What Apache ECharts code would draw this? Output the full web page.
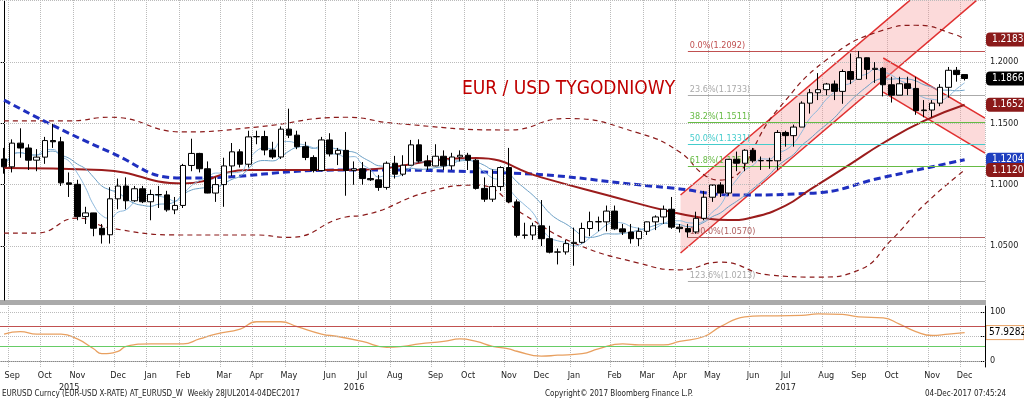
<!DOCTYPE html>
<html><head><meta charset="utf-8">
<script src="https://cdn.jsdelivr.net/npm/echarts@6/dist/echarts.min.js"></script>
<style>html,body{margin:0;padding:0;background:#fff}#c{width:1024px;height:401px}</style>
</head><body><div id="c"></div>
<script>
// ---- data ----
const startDate = '2015-08-31';
const opens = [1.1210,1.1146,1.1339,1.1299,1.1200,1.1225,1.1360,1.1350,1.1015,1.1003,1.0740,1.0770,1.0645,1.0592,1.0885,1.0989,1.0869,1.0967,
1.0861,1.0920,1.0917,1.0795,1.0831,1.1157,1.1255,1.1130,1.0932,1.1001,1.1153,1.1268,1.1167,1.1390,1.1393,1.1283,1.1226,1.1453,1.1404,1.1310,1.1222,1.1115,1.1365,1.1251,1.1280,1.1117,1.1130,1.1050,1.1040,1.0978,1.1175,1.1086,1.1159,1.1325,1.1193,1.1153,1.1232,1.1154,1.1226,1.1240,1.1200,1.0970,1.0882,1.0985,1.1140,1.0860,1.0587,1.0590,1.0665,1.0560,1.0450,1.0452,
1.0520,1.0530,1.0643,1.0699,1.0697,1.0785,1.0640,1.0614,1.0560,1.0620,1.0697,1.0737,1.0800,1.0654,1.0642,1.0615,1.0726,1.0898,1.0998,1.0932,1.1207,1.1175,1.1281,1.1195,1.1197,1.1195,1.1426,1.1400,1.1470,1.1665,1.1750,1.1775,1.1821,1.1761,1.1923,1.1859,1.2035,1.1940,1.1949,1.1815,1.1730,1.1823,1.1785,1.1604,1.1609,1.1665,1.1794,1.1933,1.1898];
const closes = [1.1146,1.1339,1.1299,1.1200,1.1225,1.1360,1.1350,1.1015,1.1003,1.0740,1.0770,1.0645,1.0592,1.0885,1.0989,1.0869,1.0967,1.0861,
1.0920,1.0917,1.0795,1.0831,1.1157,1.1255,1.1130,1.0932,1.1001,1.1153,1.1268,1.1167,1.1390,1.1393,1.1283,1.1226,1.1453,1.1404,1.1310,1.1222,1.1115,1.1365,1.1251,1.1280,1.1117,1.1130,1.1050,1.1040,1.0978,1.1175,1.1086,1.1159,1.1325,1.1193,1.1153,1.1232,1.1154,1.1226,1.1240,1.1200,1.0970,1.0882,1.0985,1.1140,1.0860,1.0587,1.0590,1.0665,1.0560,1.0450,1.0452,1.0520,
1.0530,1.0643,1.0699,1.0697,1.0785,1.0640,1.0614,1.0560,1.0620,1.0697,1.0737,1.0800,1.0654,1.0642,1.0615,1.0726,1.0898,1.0998,1.0932,1.1207,1.1175,1.1281,1.1195,1.1197,1.1195,1.1426,1.1400,1.1470,1.1665,1.1750,1.1775,1.1821,1.1761,1.1923,1.1859,1.2035,1.1940,1.1949,1.1815,1.1730,1.1823,1.1785,1.1604,1.1609,1.1665,1.1794,1.1933,1.1898,1.1866];
const highs = [1.1300,1.1370,1.1460,1.1330,1.1290,1.1390,1.1495,1.1390,1.1100,1.1040,1.0820,1.0760,1.0680,1.0980,1.1050,1.1060,1.0990,1.0990,
1.0960,1.0990,1.0950,1.0900,1.1170,1.1375,1.1260,1.1190,1.1060,1.1220,1.1340,1.1290,1.1440,1.1440,1.1440,1.1350,1.1475,1.1620,1.1440,1.1350,1.1240,1.1390,1.1420,1.1300,1.1430,1.1190,1.1185,1.1120,1.1080,1.1190,1.1235,1.1240,1.1365,1.1370,1.1240,1.1330,1.1280,1.1260,1.1280,1.1260,1.1210,1.1060,1.1125,1.1150,1.1300,1.0880,1.0690,1.0690,1.0875,1.0665,1.0480,1.0550,
1.0650,1.0690,1.0780,1.0740,1.0830,1.0830,1.0680,1.0680,1.0650,1.0700,1.0750,1.0830,1.0900,1.0680,1.0680,1.0780,1.0950,1.0990,1.1020,1.1210,1.1270,1.1290,1.1300,1.1230,1.1220,1.1445,1.1440,1.1490,1.1680,1.1780,1.1910,1.1830,1.1850,1.1940,1.2070,1.2090,1.2000,1.2000,1.1960,1.1880,1.1880,1.1880,1.1880,1.1690,1.1690,1.1820,1.1960,1.1960,1.1900];
const lows = [1.1090,1.1100,1.1220,1.1120,1.1110,1.1170,1.1300,1.0990,1.0900,1.0710,1.0680,1.0580,1.0520,1.0520,1.0800,1.0800,1.0860,1.0850,
1.0710,1.0810,1.0780,1.0760,1.0810,1.1110,1.1100,1.0930,1.0860,1.0820,1.1070,1.1140,1.1140,1.1330,1.1240,1.1210,1.1210,1.1380,1.1290,1.1200,1.1100,1.1110,1.1230,1.1160,1.0910,1.1000,1.1000,1.1030,1.0950,1.0960,1.1050,1.1070,1.1160,1.1180,1.1120,1.1150,1.1120,1.1120,1.1190,1.1120,1.0960,1.0860,1.0860,1.0950,1.0850,1.0570,1.0560,1.0550,1.0500,1.0440,1.0350,1.0430,
1.0340,1.0520,1.0580,1.0620,1.0620,1.0630,1.0590,1.0520,1.0500,1.0590,1.0630,1.0680,1.0640,1.0610,1.0570,1.0600,1.0710,1.0860,1.0900,1.0910,1.1110,1.1110,1.1180,1.1120,1.1130,1.1120,1.1310,1.1310,1.1470,1.1580,1.1690,1.1730,1.1690,1.1660,1.1820,1.1860,1.1860,1.1830,1.1720,1.1670,1.1730,1.1730,1.1570,1.1550,1.1550,1.1640,1.1710,1.1840,1.1850];
// indicator lines: [weekIndex, value]
const ma40 = [[0,1.1136],[12,1.112],[22,1.101],[30,1.112],[42,1.112],[58,1.1217],[66,1.106],[74,1.0916],[82,1.0777],[86,1.0728],[89,1.0712],[92,1.0735],[96,1.083],[99,1.096],[104,1.117],[108,1.134],[113,1.152],[118,1.1652]];
const ma100 = [[0,1.169],[13,1.1266],[22,1.1054],[42,1.112],[59,1.1103],[82,1.0973],[90,1.0916],[99,1.093],[108,1.106],[118,1.1204]];
const bandUp = [[0,1.152],[8,1.152],[13,1.155],[22,1.143],[31,1.147],[42,1.155],[48,1.150],[62,1.1446],[69,1.154],[78,1.142],[83,1.1266],[86,1.108],[88,1.1038],[95,1.161],[101,1.2016],[108,1.226],[112,1.230],[117,1.222],[118,1.2183]];
const bandLo = [[0,1.0606],[4,1.0606],[9,1.0728],[13,1.0647],[22,1.059],[31,1.059],[35,1.057],[42,1.0737],[44,1.075],[52,1.094],[58,1.0997],[64,1.075],[70,1.0525],[78,1.036],[83,1.0306],[88,1.0369],[94,1.0264],[100,1.0247],[105,1.0304],[109,1.0549],[113,1.0834],[118,1.112]];
const rsi = [[0,55],[2,60],[4,55],[7,55],[9,45],[11,25],[12,15],[14,20],[15,30],[18,35],[22,35],[24,45],[26,55],[29,65],[31,80],[34,80],[36,70],[39,55],[41,50],[44,40],[47,28],[49,30],[51,35],[54,40],[56,45],[58,40],[60,30],[62,25],[63,20],[66,10],[68,12],[71,15],[73,25],[76,35],[78,33],[81,33],[83,40],[86,50],[88,70],[91,90],[93,92],[95,92],[98,93],[100,96],[103,95],[105,90],[108,88],[110,75],[112,60],[114,52],[116,55],[118,57.9282]];
const fibLevels = [['0.0%',1.2092,'#c05050'],['23.6%',1.1733,'#aaaaaa'],['38.2%',1.1511,'#66bb44'],['50.0%',1.1331,'#44cccc'],['61.8%',1.1150,'#66bb44'],['100.0%',1.0570,'#b06060'],['123.6%',1.0213,'#aaaaaa']];
const upChannel = [[83.1,1.0443],[119.5,1.2505],[111.3,1.2505],[83.1,1.0916]];
const downChannel = [[108,1.2033],[120.5,1.1543],[120.5,1.1258],[108,1.1755]];
const priceTicks = [1.05,1.10,1.15,1.20];
const tags = [[1.2183,'#8b1a1a','1.2183'],[1.1866,'#000000','1.1866'],[1.1652,'#8b1a1a','1.1652'],[1.1204,'#1f3fbf','1.1204'],[1.1120,'#8b1a1a','1.1120']];
const yearLabels = {8:'2015',43:'2016',96:'2017'};

// ---- build ----
const N = 121;
const dates = [];
const d0 = new Date(startDate+'T00:00:00Z');
for (let i=0;i<N;i++){ const d=new Date(d0.getTime()+i*7*864e5); dates.push(d.toISOString().slice(0,10)); }
const M = ['Jan','Feb','Mar','Apr','May','Jun','Jul','Aug','Sep','Oct','Nov','Dec'];
const monthStart = dates.map((s,i)=> i>0 && s.slice(5,7)!==dates[i-1].slice(5,7));
const candle = closes.map((c,i)=>[opens[i],c,lows[i],highs[i]]);
function sma(n){return closes.map((_,i)=>{const a=closes.slice(Math.max(0,i-n+1),i+1);return +(a.reduce((s,v)=>s+v,0)/a.length).toFixed(4);});}
const ma5=sma(5), ma10=sma(10);

const chart = echarts.init(document.getElementById('c'));
const F = 'DejaVu Sans Condensed';
function poly(pts, fill, stroke){
  return {type:'custom', xAxisIndex:2, yAxisIndex:0, clip:true, silent:true, z:1,
    data:[0], renderItem:(p,api)=>({type:'group',children:[
      {type:'polygon',shape:{points:pts.map(q=>api.coord(q))},style:{fill:fill}},
      {type:'line',shape:{x1:api.coord(pts[0])[0],y1:api.coord(pts[0])[1],x2:api.coord(pts[1])[0],y2:api.coord(pts[1])[1]},style:{stroke:stroke,lineWidth:1.5}},
      {type:'line',shape:{x1:api.coord(pts[2])[0],y1:api.coord(pts[2])[1],x2:api.coord(pts[3])[0],y2:api.coord(pts[3])[1]},style:{stroke:stroke,lineWidth:1.5}}
    ]})};
}
const option = {
  animation:false,
  title:{text:'EUR / USD TYGODNIOWY',left:457,top:75,textStyle:{color:'#c00000',fontFamily:F,fontSize:19,fontWeight:'normal'}},
  grid:[{left:0,right:39,top:0,height:300},{left:0,right:39,top:306,height:61}],
  xAxis:[
    {type:'category',gridIndex:0,data:dates,boundaryGap:true,axisLine:{show:false},axisTick:{show:false},axisLabel:{show:false},
     splitLine:{show:true,interval:(i)=>monthStart[i],lineStyle:{type:'dotted',color:'#bbbbbb'}}},
    {type:'category',gridIndex:1,data:dates,boundaryGap:true,axisLine:{lineStyle:{color:'#888'}},axisTick:{show:false},
     splitLine:{show:true,interval:(i)=>monthStart[i],lineStyle:{type:'dotted',color:'#bbbbbb'}},
     axisLabel:{interval:(i)=>monthStart[i],formatter:(v)=>M[+v.slice(5,7)-1],fontFamily:F,fontSize:9,color:'#222',margin:4}},
    {type:'value',gridIndex:0,min:-0.5,max:N-0.5,show:false},
    {type:'category',gridIndex:1,data:dates,position:'bottom',offset:12,axisLine:{show:false},axisTick:{show:false},
     axisLabel:{interval:0,formatter:(v,i)=>yearLabels[i]||'',fontFamily:F,fontSize:9,color:'#222',margin:4}}
  ],
  yAxis:[
    {type:'value',gridIndex:0,position:'right',min:1.006,max:1.2506,splitLine:{show:false},
     axisLine:{show:true,lineStyle:{color:'#000'}},axisTick:{show:true,customValues:priceTicks,length:-4},
     axisLabel:{customValues:priceTicks,formatter:(v)=>v.toFixed(4),fontFamily:F,fontSize:9,color:'#222',margin:5}},
    {type:'value',gridIndex:1,position:'right',min:-12,max:112,splitLine:{show:false},
     axisLine:{show:true,lineStyle:{color:'#000'}},axisTick:{show:true,customValues:[0,50,100],length:-4},
     axisLabel:{customValues:[0,100],fontFamily:F,fontSize:9,color:'#222',margin:5}}
  ],
  series:[
    poly(upChannel,'rgba(245,150,150,0.35)','#e03030'),
    poly(downChannel,'rgba(245,150,150,0.35)','#e03030'),
    {type:'line',xAxisIndex:2,yAxisIndex:0,data:[],silent:true,
     markLine:{symbol:'none',silent:true,
       data:priceTicks.concat([1.25]).map(v=>({yAxis:v,lineStyle:{type:'dotted',color:'#bbbbbb',width:1},label:{show:false}}))
       .concat(fibLevels.map(f=>[{coord:[84,f[1]],lineStyle:{color:f[2],width:1.2,type:'solid'},
         label:{show:true,position:'insideStartTop',formatter:f[0]+'('+f[1].toFixed(4)+')',color:f[2],fontFamily:F,fontSize:9,distance:[2,1]}},{coord:[N-0.5,f[1]]}]))}},
    {type:'line',xAxisIndex:2,yAxisIndex:0,data:bandUp,smooth:true,showSymbol:false,lineStyle:{color:'#8b1a1a',width:1.2,type:[5,4]},z:3},
    {type:'line',xAxisIndex:2,yAxisIndex:0,data:bandLo,smooth:true,showSymbol:false,lineStyle:{color:'#8b1a1a',width:1.2,type:[5,4]},z:3},
    {type:'line',xAxisIndex:2,yAxisIndex:0,data:ma100,smooth:true,showSymbol:false,lineStyle:{color:'#1f2fbf',width:3,type:[7,4]},z:3},
    {type:'line',xAxisIndex:2,yAxisIndex:0,data:ma40,smooth:true,showSymbol:false,lineStyle:{color:'#9b1c1c',width:2},z:3},
    {type:'line',xAxisIndex:0,yAxisIndex:0,data:ma10,smooth:true,showSymbol:false,lineStyle:{color:'#6a9ec4',width:1},z:4},
    {type:'line',xAxisIndex:0,yAxisIndex:0,data:ma5,smooth:true,showSymbol:false,lineStyle:{color:'#8cb8dc',width:1},z:4},
    {type:'candlestick',xAxisIndex:0,yAxisIndex:0,data:candle,barWidth:6,z:5,
     itemStyle:{color:'#ffffff',color0:'#000000',borderColor:'#000000',borderColor0:'#000000',borderWidth:1}},
    {type:'line',xAxisIndex:1,yAxisIndex:1,data:rsi.map(p=>[dates[p[0]],p[1]]),smooth:true,showSymbol:false,
     lineStyle:{color:'#e8a060',width:1.3},
     markLine:{symbol:'none',silent:true,label:{show:false},data:[
       {yAxis:70,lineStyle:{color:'#c05050',width:1,type:'solid'}},
       {yAxis:30,lineStyle:{color:'#66cc66',width:1,type:'solid'}},
       {yAxis:100,lineStyle:{color:'#bbbbbb',width:1,type:'dotted'}},
       {yAxis:50,lineStyle:{color:'#bbbbbb',width:1,type:'dotted'}},
       {yAxis:0,lineStyle:{color:'#bbbbbb',width:1,type:'dotted'}}]}}
  ]
};
chart.setOption(option);
const g=[];
tags.forEach(t=>{const y=chart.convertToPixel({yAxisIndex:0},t[0]);
  g.push({type:'rect',shape:{x:986,y:y-7,width:38,height:14,r:[4,0,0,4]},style:{fill:t[1]}});
  g.push({type:'text',x:992,y:y-5,style:{text:t[2],fill:'#fff',font:'10px '+F}});});
const ry=chart.convertToPixel({yAxisIndex:1},57.9282);
g.push({type:'rect',shape:{x:986,y:ry-7,width:38,height:14},style:{fill:'#ffffff',stroke:'#e8a060'}});
g.push({type:'text',x:989,y:ry-5,style:{text:'57.9282',fill:'#000',font:'10px '+F}});
g.push({type:'rect',shape:{x:0,y:300,width:986,height:5},style:{fill:'#aaaaaa'}});
g.push({type:'text',left:2,top:390,style:{text:'EURUSD Curncy (EUR-USD X-RATE) AT_EURUSD_W  Weekly 28JUL2014-04DEC2017',fill:'#222',font:'8px '+F}});
g.push({type:'text',left:545,top:390,style:{text:'Copyright© 2017 Bloomberg Finance L.P.',fill:'#222',font:'8px '+F}});
g.push({type:'text',left:925,top:390,style:{text:'04-Dec-2017 07:45:24',fill:'#222',font:'8px '+F}});
chart.setOption({graphic:g});
</script></body></html>
